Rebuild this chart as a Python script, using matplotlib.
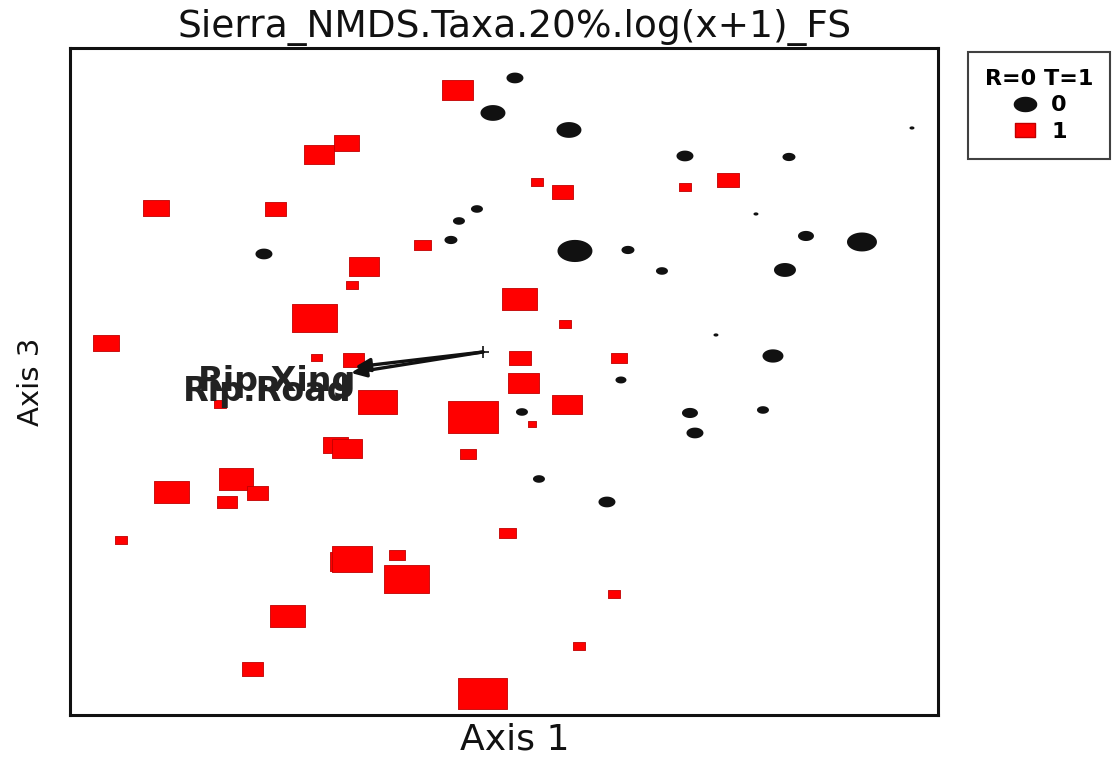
import numpy as np
import matplotlib.pyplot as plt
from matplotlib.lines import Line2D

plt.rcParams['font.family'] = ['DejaVu Sans']

# NMDS scores (Axis 1, Axis 3) for plots with T=1
t1_x = [-0.25, -1.36, -1.64, -3.27, -2.07, -0.60, -1.19, -1.31, 0.54, 0.80, 2.02,
        2.45, -1.68, -3.77, -1.66, -1.29, -1.05, -0.10, -0.15, -1.47, -1.36, -2.47,
        -3.11, -2.25, -2.56, 0.37, 0.82, 0.37, 1.36, 0.41, 0.84, 0.49, -3.62,
        -1.38, -1.31, -0.86, -0.76, -1.95, -2.30, 0.00, 0.25, 1.31, 0.96, -2.63]
t1_y = [2.62, 2.09, 1.97, 1.44, 1.43, 1.07, 0.85, 0.67, 1.70, 1.60, 1.65,
        1.72, 0.34, 0.09, -0.06, -0.08, -0.50, -0.65, -1.02, -0.93, -0.97, -1.27,
        -1.40, -1.41, -1.50, 0.53, 0.28, -0.06, -0.06, -0.31, -0.53, -0.72, -1.88,
        -2.10, -2.07, -2.03, -2.27, -2.64, -3.17, -3.42, -1.81, -2.42, -2.94, -0.52]
t1_cover = [3.1, 2.5, 3.0, 2.6, 2.1, 1.7, 3.0, 1.2, 1.2, 2.1, 1.2,
            2.2, 4.5, 2.6, 1.1, 2.1, 3.9, 5.0, 1.6, 2.5, 3.0, 3.4,
            3.5, 2.1, 2.0, 3.5, 1.2, 2.2, 1.6, 3.1, 3.0, 0.8, 1.2,
            3.0, 4.0, 1.6, 4.5, 3.5, 2.1, 4.9, 1.7, 1.2, 1.2, 1.2]

# NMDS scores for plots with T=0
t0_x = [0.32, 0.10, 0.86, 2.02, 3.06, 4.29, 2.73, -0.06, -0.24, -0.32, -2.19, 0.92, 1.45,
        1.79, 3.23, 3.79, 3.02, 2.33, 2.90, 1.38, 0.39, 2.07, 2.12, 2.80, 0.56, 1.24]
t0_y = [2.74, 2.39, 2.22, 1.96, 1.95, 2.24, 1.38, 1.43, 1.31, 1.12, 0.98, 1.01, 1.02,
        0.81, 1.16, 1.10, 0.82, 0.17, -0.04, -0.28, -0.60, -0.61, -0.81, -0.58, -1.27, -1.50]
t0_cover = [1.7, 2.5, 2.5, 1.7, 1.3, 0.5, 0.5, 1.2, 1.2, 1.3, 1.7, 3.5, 1.3,
            1.2, 1.6, 3.0, 2.2, 0.5, 2.1, 1.1, 1.2, 1.6, 1.7, 1.2, 1.2, 1.7]

# joint-plot vectors
vec_names = ['Rip.Road', 'Rip.Xing']
vec_x = [-1.32, -1.28]
vec_y = [-0.21, -0.15]

# symbols are drawn wider than tall
stretch = 1.58
square = [(-stretch, -1), (stretch, -1), (stretch, 1), (-stretch, 1), (-stretch, -1)]
tt = np.linspace(0, 2 * np.pi, 41)
ellipse = list(zip(stretch * np.cos(tt), np.sin(tt)))

fig = plt.figure(figsize=(11.12, 7.59), dpi=100)
ax = fig.add_axes([0.0629, 0.0580, 0.7806, 0.8788])

ax.scatter(t0_x, t0_y, s=(np.array(t0_cover) * 7.2) ** 2, marker=ellipse,
           color='#111111', linewidths=0, zorder=3)
ax.scatter(t1_x, t1_y, s=(np.array(t1_cover) * 7.2) ** 2, marker=square,
           facecolor='#ff0000', edgecolor='#c00000', linewidths=0.6, zorder=3)

ax.plot(0, 0, marker='+', ms=9, mew=1.2, color='#111111', zorder=4)
label_dy = [-0.40, -0.30]
for name, vx, vy, dy in zip(vec_names, vec_x, vec_y, label_dy):
    ax.annotate('', xy=(vx, vy), xytext=(0, 0),
                arrowprops=dict(arrowstyle='-|>,head_length=0.9,head_width=0.4',
                                color='#111111', lw=2.4, shrinkA=0, shrinkB=0),
                zorder=5)
    ax.text(vx + 0.01, dy, name, ha='right', va='center', fontsize=24,
            fontweight='bold', color='#222222', zorder=6)

ax.set_xlim(-4.13, 4.55)
ax.set_ylim(-3.63, 3.04)
ax.set_xticks([])
ax.set_yticks([])
for sp in ax.spines.values():
    sp.set_linewidth(2.2)
    sp.set_color('#111111')

ax.set_title('Sierra_NMDS.Taxa.20%.log(x+1)_FS', fontsize=27, x=0.512, pad=8,
             color='#111111')
ax.set_xlabel('Axis 1', fontsize=26, color='#111111')
ax.xaxis.set_label_coords(0.512, -0.012, transform=ax.transAxes)
ax.xaxis.label.set_va('top')
ax.set_ylabel('Axis 3', fontsize=21, labelpad=18, color='#111111')

handles = [Line2D([], [], marker=ellipse, ms=16, color='#111111', ls='none'),
           Line2D([], [], marker=square, ms=15, markerfacecolor='#ff0000',
                  markeredgecolor='#c00000', ls='none')]
leg = fig.legend(handles, ['0', '1'], title='R=0 T=1', loc='upper left',
                 bbox_to_anchor=(0.8705, 0.9315), frameon=True, fancybox=False,
                 edgecolor='#111111', prop={'weight': 'bold', 'size': 16},
                 title_fontproperties={'weight': 'bold', 'size': 16},
                 handlelength=1.3, handletextpad=0.5, labelspacing=0.3,
                 borderpad=0.75, borderaxespad=0)
leg.get_frame().set_linewidth(1.5)

fig.savefig('out.png', dpi=100)
